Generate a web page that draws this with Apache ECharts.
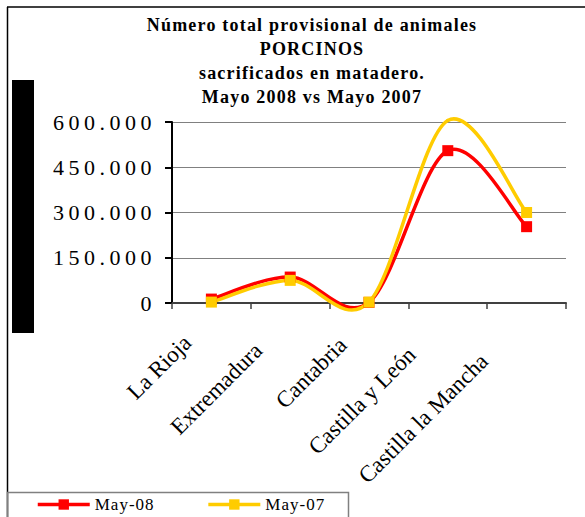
<!DOCTYPE html>
<html><head><meta charset="utf-8">
<script src="https://cdn.jsdelivr.net/npm/echarts@6/dist/echarts.min.js"></script>
<style>html,body{margin:0;padding:0;background:#fff}#c{width:585px;height:517px}</style>
</head><body><div id="c"></div>
<script>
const categories = ['La Rioja', 'Extremadura', 'Cantabria', 'Castilla y León', 'Castilla la Mancha'];
const may08 = [13000, 86000, 2000, 505000, 253000];
const may07 = [3000, 75000, 3000, 605000, 300000];
const yTicks = [0, 150000, 300000, 450000, 600000];
const seriesNames = ['May-08', 'May-07'];
const seriesColors = ['#FF0000', '#FFCC00'];
const titleLines = ['Número total provisional de animales', 'PORCINOS', 'sacrificados en matadero.', 'Mayo 2008 vs Mayo 2007'];

const fmt = v => String(v).replace(/\B(?=(\d{3})+(?!\d))/g, '.');
const yLabelSet = new Set(yTicks.map(fmt));
const yMin = yTicks[0], yMax = yTicks[yTicks.length - 1], yInt = yTicks[1] - yTicks[0];
const serif = "'Liberation Serif', 'Times New Roman', serif";
const xFont = 23;

// measure label lengths to emulate Excel's placement of rotated labels
const mctx = document.createElement('canvas').getContext('2d');
mctx.font = xFont + 'px ' + serif;
const xData = categories.map(c => {
  const L = mctx.measureText(c).width;
  return {value: c, textStyle: {padding: [0, Math.round(12 + 0.28 * L), 0, 0]}};
});

const chart = echarts.init(document.getElementById('c'), null, {renderer: 'svg'});

// Excel-like (Catmull-Rom, 1/6) smoothed curve drawn through the axis scales
function curveSeries(arr, color) {
  return {
    type: 'custom', coordinateSystem: 'cartesian2d', silent: true,
    data: arr.map((v, i) => [i, v]), encode: {x: 0, y: 1},
    renderItem: (params, api) => {
      const i = params.dataIndex;
      const n = arr.length;
      if (i >= n - 1) return null;
      const P = k => { k = Math.max(0, Math.min(n - 1, k)); return api.coord([k, arr[k]]); };
      const p0 = P(i - 1), p1 = P(i), p2 = P(i + 1), p3 = P(i + 2);
      return {
        type: 'bezierCurve',
        shape: {
          x1: p1[0], y1: p1[1], x2: p2[0], y2: p2[1],
          cpx1: p1[0] + (p2[0] - p0[0]) / 6, cpy1: p1[1] + (p2[1] - p0[1]) / 6,
          cpx2: p2[0] - (p3[0] - p1[0]) / 6, cpy2: p2[1] - (p3[1] - p1[1]) / 6
        },
        style: {stroke: color, lineWidth: 3.5, fill: null, lineCap: 'round', lineJoin: 'round'}
      };
    }
  };
}

chart.setOption({
  animation: false,
  backgroundColor: '#fff',
  title: {
    text: titleLines.join('\n'),
    left: 307, top: 8, textAlign: 'center',
    textStyle: {fontFamily: serif, fontWeight: 'bold', fontSize: 18, lineHeight: 24, color: '#000'}
  },
  graphic: [
    {type: 'line', shape: {x1: 7, y1: 7, x2: 585, y2: 7}, style: {stroke: '#404040', lineWidth: 2}},
    {type: 'line', shape: {x1: 7.5, y1: 7, x2: 7.5, y2: 517}, style: {stroke: '#000', lineWidth: 1.5}},
    {type: 'rect', shape: {x: 12, y: 80, width: 22, height: 253}, style: {fill: '#000'}},
    {type: 'rect', shape: {x: 7.5, y: 492.5, width: 341, height: 40}, style: {fill: 'none', stroke: '#808080', lineWidth: 1.5}}
  ],
  grid: {left: 172, right: 19, top: 122, bottom: 214, containLabel: false},
  legend: {
    left: 36, top: 496, padding: 0, itemWidth: 52, itemHeight: 13, itemGap: 58,
    data: seriesNames,
    lineStyle: {width: 3.5, opacity: 1},
    textStyle: {fontFamily: serif, fontSize: 17, color: '#000'}
  },
  xAxis: {
    type: 'category', data: xData, boundaryGap: true,
    axisLine: {lineStyle: {color: '#404040', width: 2}},
    axisTick: {show: true, length: 6, lineStyle: {color: '#404040', width: 1.5}},
    axisLabel: {rotate: 45, interval: 0, margin: 12,
      fontFamily: serif, fontSize: xFont, color: '#000'}
  },
  yAxis: {
    type: 'value', min: yMin, max: yMax, interval: yInt,
    axisLine: {show: true, lineStyle: {color: '#000', width: 2}},
    axisTick: {show: true, length: 7, lineStyle: {color: '#000', width: 2}},
    splitLine: {lineStyle: {color: '#808080', width: 1}},
    axisLabel: {formatter: fmt, margin: 16, fontFamily: serif, fontSize: 22, color: '#000'}
  },
  series: [
    curveSeries(may08, seriesColors[0]),
    curveSeries(may07, seriesColors[1]),
    ...[may08, may07].map((arr, i) => ({
      name: seriesNames[i], type: 'line',
      data: arr.map(v => v > yMax ? {value: v, symbol: 'none'} : v),
      symbol: 'rect', symbolSize: 11,
      lineStyle: {color: seriesColors[i], width: 0, opacity: 0},
      itemStyle: {color: seriesColors[i]}
    }))
  ]
});

function applySpacing() {
  document.querySelectorAll('#c svg text').forEach(t => {
    const s = t.textContent;
    if (yLabelSet.has(s)) t.style.letterSpacing = '4.5px';
    else if (titleLines.includes(s)) t.style.letterSpacing = '1.2px';
    else if (seriesNames.includes(s)) t.style.letterSpacing = '1px';
  });
}
chart.on('finished', applySpacing);
applySpacing();
</script></body></html>
